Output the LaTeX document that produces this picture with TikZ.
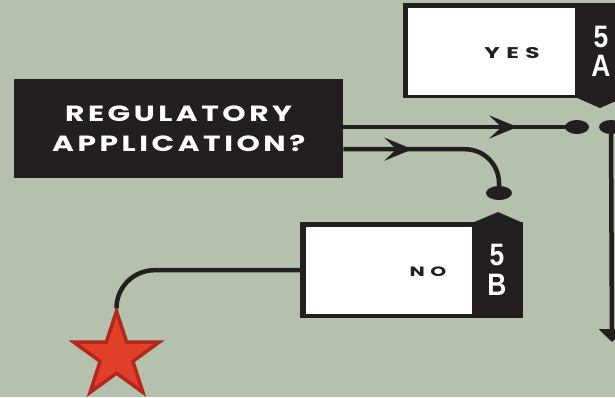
\documentclass[tikz,border=0pt]{standalone}
\usepackage{fontspec}
\usetikzlibrary{arrows.meta,shapes.geometric,decorations.markings}
\newfontfamily\regfont[FakeStretch=1.35,LetterSpace=16]{Poppins}
\newfontfamily\ynfont[FakeStretch=1.5,LetterSpace=42]{Poppins}
\newfontfamily\tabfont[FakeStretch=0.85]{Liberation Sans}
\definecolor{bg}{HTML}{B5C1AD}
\definecolor{ink}{HTML}{231F20}
\definecolor{starfill}{HTML}{E23F28}
\definecolor{starline}{HTML}{B3281C}
\begin{document}
\begin{tikzpicture}[x=1pt,y=-1pt,
  conn/.style={draw=ink, line width=4.5pt},
  chev/.style={postaction={decorate}, decoration={markings, mark=at position #1 with {\arrow{Stealth[length=28pt,width=23pt,inset=12pt]}}}},
  dot/.style={ellipse, fill=ink, minimum width=24pt, minimum height=14pt, inner sep=0pt},
  frame/.style={fill=ink, inner sep=0pt, anchor=north west},
  inner/.style={fill=white, inner sep=0pt, anchor=north west},
  yntext/.style={font=\ynfont\bfseries, text=ink, inner sep=0pt, anchor=base},
  tabtext/.style={font=\tabfont\bfseries\fontsize{31pt}{31pt}\selectfont, text=white, inner sep=0pt, anchor=base}]
\fill[bg] (0,0) rectangle (615,397);
\useasboundingbox (0,0) rectangle (615,397);
\clip (0,0) rectangle (615,397);

% regulatory box
\node[frame, minimum width=329pt, minimum height=99pt, text=white, align=center,
  font=\regfont\bfseries\fontsize{22pt}{30pt}\selectfont] (reg) at (14,79) {REGULATORY\\APPLICATION?};

% YES box
\node[frame, minimum width=222pt, minimum height=95pt] (yesbox) at (403,3) {};
\fill[ink] (575,97) -- (600,108) -- (625,97) -- cycle;
\node[inner, minimum width=167pt, minimum height=87pt] (yes) at (408,8) {};
\node[yntext, font=\ynfont\bfseries\fontsize{15.5pt}{15.5pt}\selectfont] (yestxt) at (512,58) {YES};
\node[tabtext] (t5a) at (601,47) {5};
\node[tabtext] (tA) at (601,76) {A};

% NO box
\node[frame, minimum width=223pt, minimum height=96pt] (nobox) at (300,222) {};
\fill[ink] (472,223) -- (498,212) -- (523,223) -- cycle;
\node[inner, minimum width=166pt, minimum height=87pt] (no) at (306,227) {};
\node[yntext, font=\ynfont\bfseries\fontsize{13.5pt}{13.5pt}\selectfont] (notxt) at (428,276) {NO};
\node[tabtext] (t5b) at (497,265) {5};
\node[tabtext] (tB) at (497,295) {B};

% dots
\node[dot] (d1) at (577,127) {};
\node[dot] (d2) at (611,127) {};
\node[dot, minimum width=26pt] (d3) at (499,193) {};

% connectors
\draw[conn, chev=174pt] (reg.east |- d1) -- (d1.center);
\coordinate (r2) at ([yshift=-20.5pt]reg.east);
\draw[conn, chev=69pt, rounded corners=34pt] (r2) -- (d3 |- r2) -- (d3.center);
\coordinate (endA) at (612,342);
\draw[conn, -{Triangle[length=13pt,width=26pt]}] (d2.center) -- (endA);

% star
\node[star, star points=5, star point ratio=2.618, minimum size=90pt, inner sep=0pt,
  fill=starfill, draw=starline, line width=3.5pt] (star) at (116.5,356) {};
\draw[conn, rounded corners=38pt] (nobox.west) -- (nobox.west -| star) -- (star.north);
\end{tikzpicture}
\end{document}
